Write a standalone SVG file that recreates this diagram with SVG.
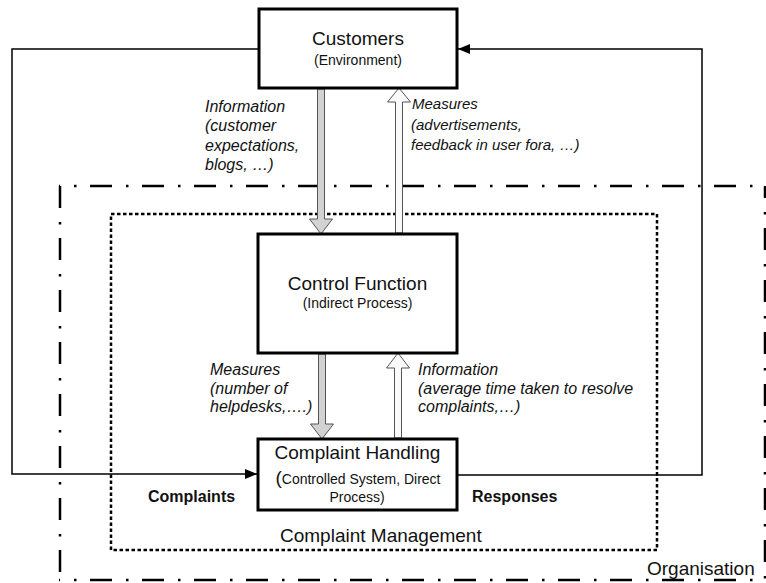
<svg xmlns="http://www.w3.org/2000/svg" width="766" height="583" viewBox="0 0 766 583">
<style>
  text { font-family: "Liberation Sans", Arial, sans-serif; fill: #111; }
  .title { font-size: 19px; text-anchor: middle; }
  .sub { font-size: 14px; text-anchor: middle; }
  .lab { font-size: 16px; font-style: italic; }
  .lab15 { font-size: 15px; font-style: italic; }
  .bold { font-size: 16px; font-weight: bold; }
  .box { fill: #fff; stroke: #000; stroke-width: 3; }
  .line { fill: none; stroke: #000; stroke-width: 1.5; }
  .org { fill: none; stroke: #000; stroke-width: 2.5; stroke-dasharray: 22 14 2.5 13.5; }
  .cm { fill: none; stroke: #000; stroke-width: 2.5; stroke-dasharray: 3.5 2.5; }
  .fdown { fill: #d2d2d2; stroke: #555; stroke-width: 1; }
  .fup { fill: #fafafa; stroke: #555; stroke-width: 1; }
</style>
<defs>
  <marker id="tri" markerWidth="12" markerHeight="10" refX="12" refY="5" orient="auto" markerUnits="userSpaceOnUse">
    <path d="M0,0 L12,5 L0,10 z" fill="#000"/>
  </marker>
</defs>

<g id="organisation">
  <line class="org" x1="59" y1="186" x2="766" y2="186" stroke-dashoffset="21"/>
  <line class="org" x1="60" y1="186" x2="60" y2="583" stroke-dasharray="22 13 2.5 13"/>
  <line class="org" x1="59" y1="580" x2="766" y2="580" stroke-dashoffset="21"/>
  <line class="org" x1="765" y1="186" x2="765" y2="580" stroke="#888" stroke-dasharray="22 13 2.5 13" stroke-dashoffset="10"/>
  <text x="647" y="575" style="font-size:19px">Organisation</text>
</g>

<g id="complaint-management">
  <rect class="cm" x="111" y="214" width="546" height="336"/>
  <text x="280" y="542" style="font-size:19px">Complaint Management</text>
</g>

<g id="connectors">
  <polyline class="line" points="259,49 12,49 12,474 257,474" marker-end="url(#tri)"/>
  <polyline class="line" points="457,475 702,475 702,49 458,49" marker-end="url(#tri)"/>
  <polygon class="fdown" points="317.5,89 324.5,89 324.5,219 332.5,219 321,234 309.5,219 317.5,219"/>
  <polygon class="fup" points="395.5,233 402.5,233 402.5,102 410.5,102 399,88 387.5,102 395.5,102"/>
  <polygon class="fdown" points="318.5,354 325.5,354 325.5,424 333.5,424 322,439 310.5,424 318.5,424"/>
  <polygon class="fup" points="394.5,438 401.5,438 401.5,368 409.5,368 398,353 386.5,368 394.5,368"/>
  <text class="lab" x="205" y="111.5">Information</text>
  <text class="lab" x="205" y="131">(customer</text>
  <text class="lab" x="205" y="150.5">expectations,</text>
  <text class="lab" x="205" y="170">blogs, …)</text>
  <text class="lab15" x="412" y="109">Measures</text>
  <text class="lab15" x="411" y="129.5">(advertisements,</text>
  <text class="lab15" x="411" y="150">feedback in user fora, …)</text>
  <text class="lab" x="210" y="375">Measures</text>
  <text class="lab" x="210" y="393.5">(number of</text>
  <text class="lab" x="210" y="412">helpdesks,….)</text>
  <text class="lab" x="418" y="375">Information</text>
  <text class="lab" x="418" y="393.5">(average time taken to resolve</text>
  <text class="lab" x="418" y="412">complaints,…)</text>
  <text class="bold" x="148" y="502">Complaints</text>
  <text class="bold" x="472" y="502">Responses</text>
</g>

<g id="customers">
  <rect class="box" x="259" y="9" width="198" height="79"/>
  <text class="title" x="358" y="45">Customers</text>
  <text class="sub" x="358" y="65">(Environment)</text>
</g>

<g id="control-function">
  <rect class="box" x="258" y="234" width="199" height="119"/>
  <text class="title" x="357.5" y="290">Control Function</text>
  <text class="sub" x="357.5" y="308">(Indirect Process)</text>
</g>

<g id="complaint-handling">
  <rect class="box" x="258" y="439" width="199" height="71"/>
  <text class="title" x="357.5" y="459">Complaint Handling</text>
  <text x="358" y="484" style="font-size:14px;text-anchor:middle"><tspan style="font-size:19px">(</tspan>Controlled System, Direct</text>
  <text class="sub" x="357" y="502">Process)</text>
</g>
</svg>
